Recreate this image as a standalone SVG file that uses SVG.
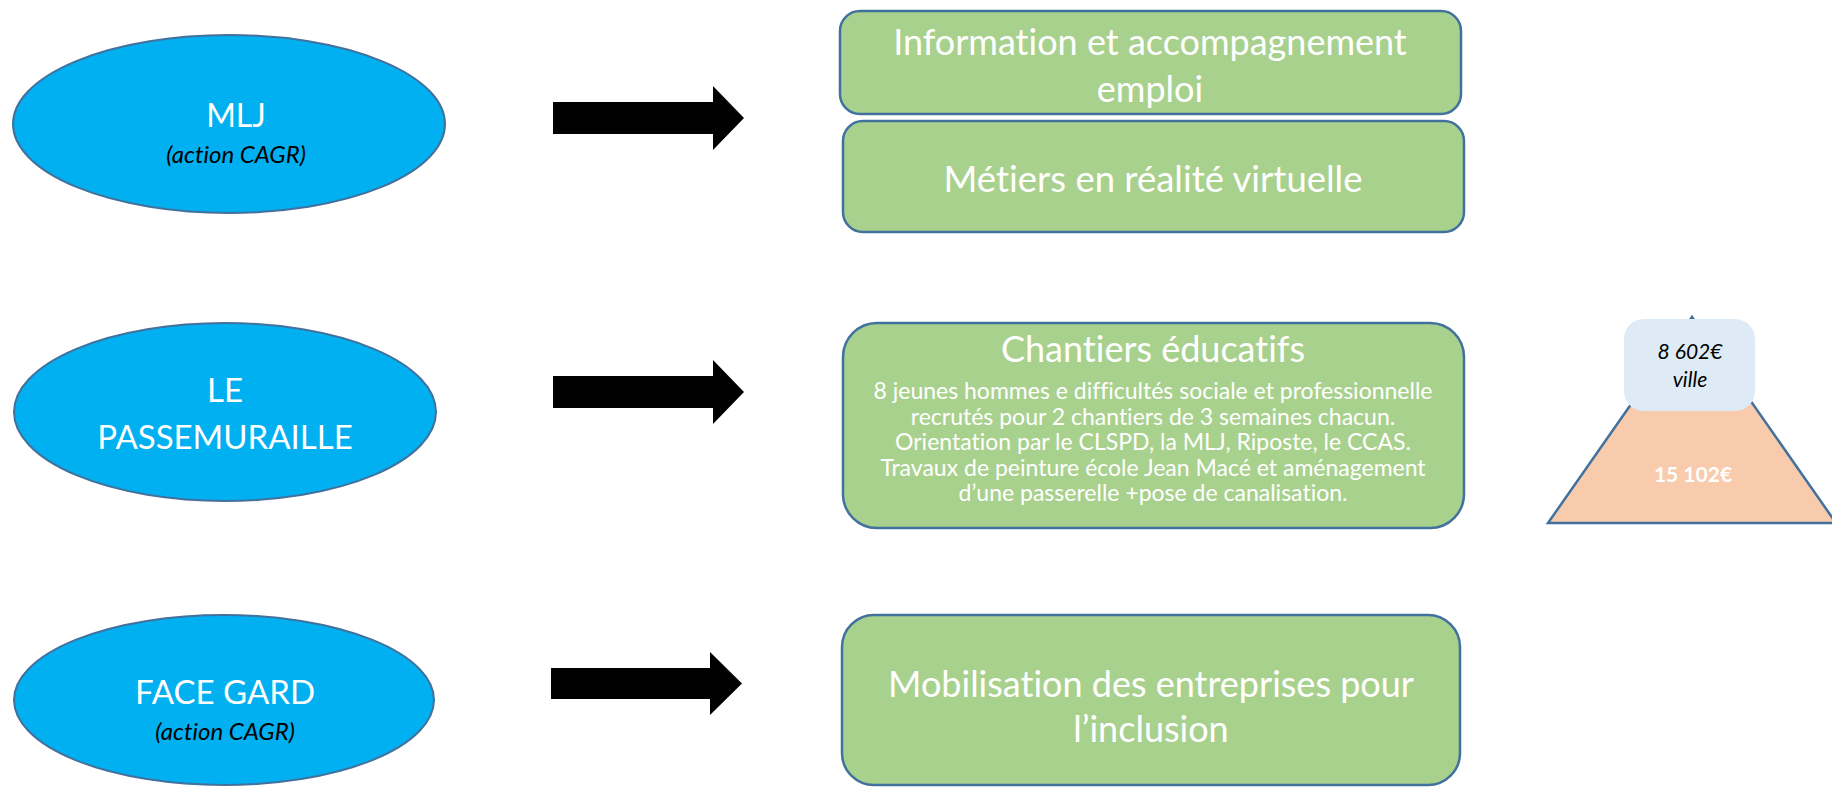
<svg xmlns="http://www.w3.org/2000/svg" width="1832" height="788" viewBox="0 0 1832 788">
<style>
.ell{fill:#00B0F0;stroke:#41719C;stroke-width:2}
.box{fill:#A9D18E;stroke:#41719C;stroke-width:2.5}
.t{font-family:Lato,"Liberation Sans",sans-serif;text-anchor:middle;font-variant-ligatures:none;font-feature-settings:"liga" 0}
.w{fill:#FFFFFF}
.k{fill:#000000;font-style:italic}
.arrow{fill:#000000}
</style>
<rect width="1832" height="788" fill="#FFFFFF"/>
<g id="connectors">
<polygon class="arrow" points="553,102 713,102 713,86 744,118 713,150 713,134 553,134"/>
<polygon class="arrow" points="553,376 713,376 713,360 744,392 713,424 713,408 553,408"/>
<polygon class="arrow" points="551,668 710,668 710,652 742,683.5 710,715 710,699 551,699"/>
</g>
<g id="node-mlj">
<ellipse class="ell" cx="229" cy="124" rx="216" ry="89"/>
<text class="t w" x="236" y="127" font-size="32">MLJ</text>
<text class="t k" x="236" y="163" font-size="24">(action CAGR)</text>
</g>
<g id="node-passemuraille">
<ellipse class="ell" cx="225" cy="412" rx="211" ry="89"/>
<text class="t w" x="225" y="402" font-size="33">LE</text>
<text class="t w" x="225" y="449" font-size="33">PASSEMURAILLE</text>
</g>
<g id="node-facegard">
<ellipse class="ell" cx="224" cy="700" rx="210" ry="85"/>
<text class="t w" x="225" y="704" font-size="33">FACE GARD</text>
<text class="t k" x="225" y="740" font-size="24">(action CAGR)</text>
</g>
<g id="node-information">
<rect class="box" x="840" y="11" width="621" height="103" rx="20"/>
<text class="t w" x="1150" y="55" font-size="36">Information et accompagnement</text>
<text class="t w" x="1150" y="102" font-size="36">emploi</text>
</g>
<g id="node-metiers">
<rect class="box" x="843" y="121" width="621" height="111" rx="20"/>
<text class="t w" x="1153" y="192" font-size="36.5">Métiers en réalité virtuelle</text>
</g>
<g id="node-chantiers">
<rect class="box" x="843" y="323" width="621" height="205" rx="34"/>
<text class="t w" x="1153" y="362" font-size="36">Chantiers éducatifs</text>
<text class="t w" x="1153" y="399" font-size="23">8 jeunes hommes e difficultés sociale et professionnelle</text>
<text class="t w" x="1153" y="424.5" font-size="23">recrutés pour 2 chantiers de 3 semaines chacun.</text>
<text class="t w" x="1153" y="450" font-size="23">Orientation par le CLSPD, la MLJ, Riposte, le CCAS.</text>
<text class="t w" x="1153" y="475.5" font-size="23">Travaux de peinture école Jean Macé et aménagement</text>
<text class="t w" x="1153" y="501" font-size="23">d’une passerelle +pose de canalisation.</text>
</g>
<g id="node-mobilisation">
<rect class="box" x="842" y="615" width="618" height="170" rx="32"/>
<text class="t w" x="1151" y="697" font-size="36">Mobilisation des entreprises pour</text>
<text class="t w" x="1151" y="742" font-size="36">l’inclusion</text>
</g>
<g id="node-financement">
<polygon points="1692,317 1548,523 1836,523" fill="#F8CBAD" stroke="#41719C" stroke-width="2.5"/>
<rect x="1624" y="319" width="131" height="92" rx="20" fill="#DEEBF7"/>
<text class="t k" x="1690" y="359" font-size="21">8 602€</text>
<text class="t k" x="1690" y="387" font-size="21">ville</text>
<text class="t w" x="1693" y="482" font-size="21" font-weight="bold">15 102€</text>
</g>
</svg>
